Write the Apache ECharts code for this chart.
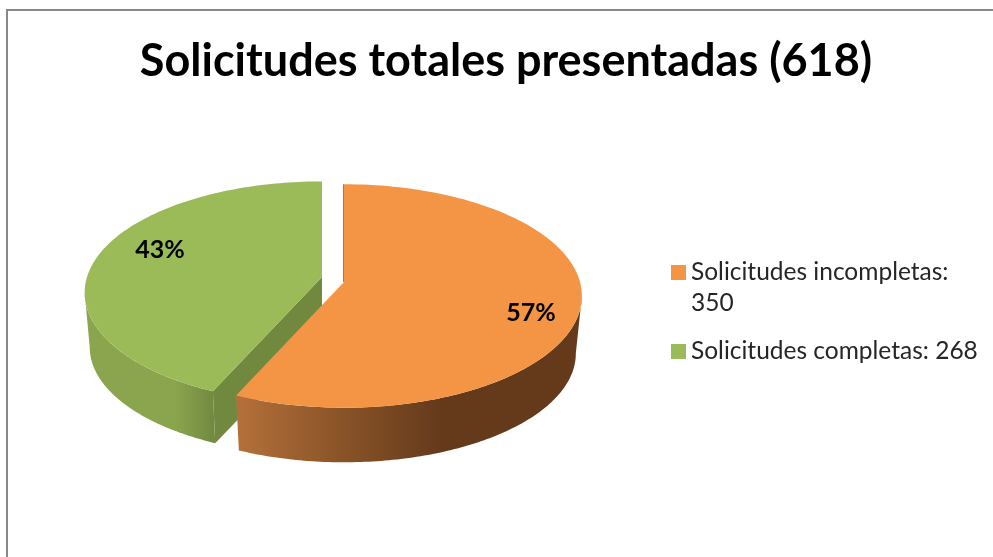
<!DOCTYPE html>
<html>
<head>
    <meta charset="utf-8">
    <script src="https://cdn.jsdelivr.net/npm/echarts@6/dist/echarts.min.js"></script>
    <style>
        html, body { margin: 0; padding: 0; background: #fff; }
        #main { width: 993px; height: 557px; }
    </style>
</head>

<body>
    <div id="main"></div>

    <script type="text/javascript">
        var titleText = 'Solicitudes totales presentadas (618)';
        var categories = ['Solicitudes incompletas', 'Solicitudes completas'];
        var counts = [350, 268];
        var percentLabels = ['57%', '43%'];

        var total = counts[0] + counts[1];
        var FONT = 'Lato, "Open Sans", sans-serif';

        // per slice look of the 3D pie: a = perspective, c/b = radii, top and bottom faces
        var slices = [
            {
                color: '#F49545', x: 344, topY: 282, bottomY: 340, a: 0.125,
                c: 236, b: 110, c2: 230, b2: 107, labelX: 531, labelY: 313,
                wall: [[237, '#B4703A'], [340, '#8A5428'], [440, '#653A1B'], [582, '#653A1B']],
                edgeLine: '#8F7F70'
            },
            {
                color: '#9BBB59', x: 322, topY: 277, bottomY: 332, a: 0.14,
                c: 235, b: 109, c2: 230, b2: 106, labelX: 160, labelY: 250,
                wall: [[85, '#8AA54E'], [175, '#8AA54E'], [213, '#728A40'], [322, '#728A40']],
                innerColor: '#71893F'
            }
        ];

        function project(s, deg, bottom) {
            var r = deg * Math.PI / 180;
            var u = Math.sin(r), v = -Math.cos(r);
            var d = 1 - s.a * v;
            return [
                s.x + (bottom ? s.c2 : s.c) * u / d,
                (bottom ? s.bottomY : s.topY) + (bottom ? s.b2 : s.b) * v / d
            ];
        }

        function arc(s, from, to, bottom) {
            var pts = [];
            for (var i = 0; i <= 120; i++) {
                pts.push(project(s, from + (to - from) * i / 120, bottom));
            }
            return pts;
        }

        function wallFill(s) {
            var x0 = s.wall[0][0], x1 = s.wall[s.wall.length - 1][0];
            return new echarts.graphic.LinearGradient(x0, 0, x1, 0, s.wall.map(function (w) {
                return { offset: (w[0] - x0) / (x1 - x0), color: w[1] };
            }), true);
        }

        function renderSlice(params, api) {
            var idx = params.seriesIndex;
            var s = slices[idx];
            var from = 0;
            for (var i = 0; i < idx; i++) {
                from += counts[i] / total * 360;
            }
            var to = from + api.value(0) / total * 360;
            var children = [];

            // the wall only shows between the widest points of the rim
            var widest = Math.acos(-s.a) * 180 / Math.PI;
            var wallFrom = Math.max(from, widest), wallTo = Math.min(to, 360 - widest);
            var wallPts = arc(s, wallFrom, wallTo, false).concat(arc(s, wallFrom, wallTo, true).reverse());
            children.push({ type: 'polygon', shape: { points: wallPts }, style: { fill: wallFill(s) } });

            if (s.innerColor) {
                children.push({
                    type: 'polygon',
                    shape: { points: [[s.x, s.topY], project(s, from, false), project(s, from, true), [s.x, s.bottomY]] },
                    style: { fill: s.innerColor }
                });
            }

            var topPts = [[s.x, s.topY]].concat(arc(s, from, to, false));
            children.push({ type: 'polygon', shape: { points: topPts }, style: { fill: s.color } });

            if (s.edgeLine) {
                var far = project(s, from, false);
                children.push({
                    type: 'line',
                    shape: { x1: far[0] - 0.5, y1: far[1], x2: s.x - 0.5, y2: s.topY },
                    style: { stroke: s.edgeLine, lineWidth: 1 }
                });
            }

            children.push({
                type: 'text',
                style: {
                    text: percentLabels[idx], x: s.labelX, y: s.labelY,
                    font: 'bold 25px ' + FONT, fill: '#000',
                    align: 'center', verticalAlign: 'middle'
                }
            });
            return { type: 'group', children: children };
        }

        // orange goes on top of green, so series are stacked with z
        var seriesList = categories.map(function (name, i) {
            return {
                name: name,
                type: 'custom',
                coordinateSystem: 'none',
                renderItem: renderSlice,
                data: [[counts[i]]],
                z: 10 - i,
                silent: true,
                itemStyle: { color: slices[i].color }
            };
        });

        var myChart = echarts.init(document.getElementById('main'), null, { renderer: 'canvas' });
        myChart.setOption({
            animation: false,
            backgroundColor: '#fff',
            title: {
                text: titleText,
                left: 501,
                top: 34,
                textAlign: 'center',
                textStyle: { fontFamily: FONT, fontWeight: 'bold', fontSize: 45, color: '#000' }
            },
            legend: [
                {
                    data: [categories[0]],
                    left: 671,
                    top: 226,
                    padding: 0,
                    icon: 'rect',
                    itemWidth: 15,
                    itemHeight: 15,
                    selectedMode: false,
                    // blank first line keeps the icon level with the first text line
                    formatter: function (n) { return '\n' + n + ':\n' + counts[0]; },
                    textStyle: { fontFamily: FONT, fontSize: 24.5, color: '#262626', lineHeight: 31 }
                },
                {
                    data: [categories[1]],
                    left: 671,
                    top: 336,
                    padding: 0,
                    icon: 'rect',
                    itemWidth: 15,
                    itemHeight: 15,
                    selectedMode: false,
                    formatter: function (n) { return n + ': ' + counts[1]; },
                    textStyle: { fontFamily: FONT, fontSize: 24.5, color: '#262626', lineHeight: 31 }
                }
            ],
            graphic: [{
                type: 'rect',
                shape: { x: 7, y: 10, width: 1100, height: 700 },
                style: { fill: 'none', stroke: '#888', lineWidth: 2 },
                silent: true
            }],
            series: seriesList
        });
    </script>
</body>

</html>
